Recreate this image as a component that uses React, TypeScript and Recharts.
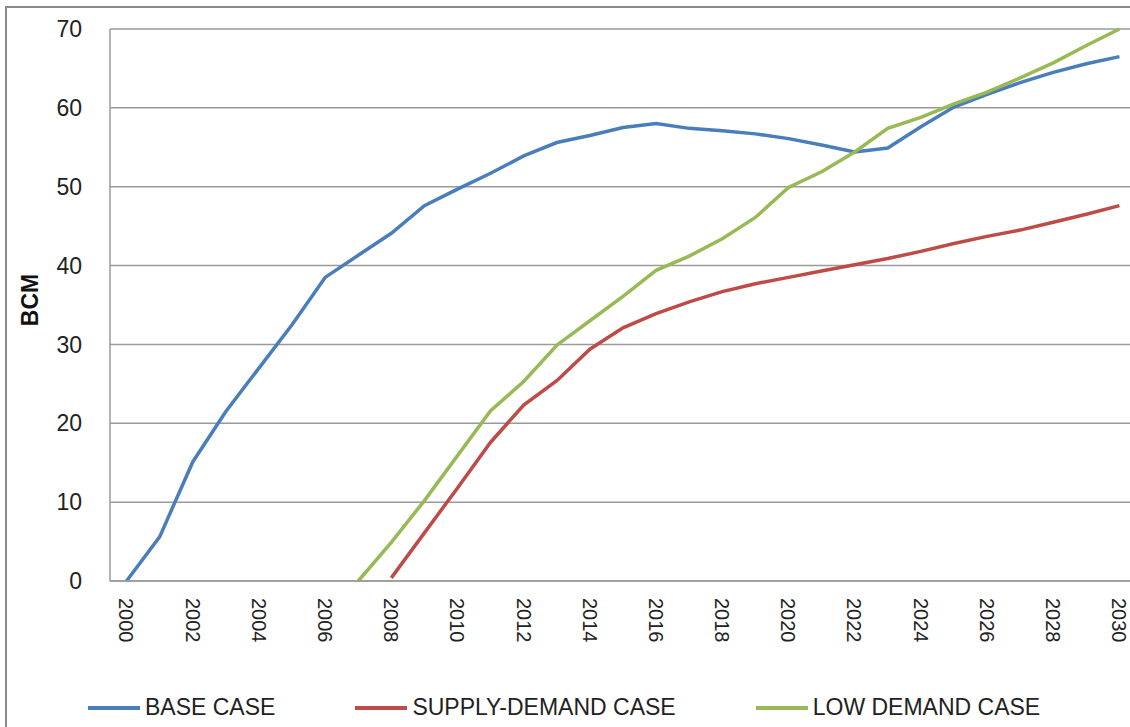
import React from 'react';
import { LineChart, Line, XAxis, YAxis, CartesianGrid } from 'recharts';

// years on the category axis
const years = [
  2000, 2001, 2002, 2003, 2004, 2005, 2006, 2007, 2008, 2009, 2010,
  2011, 2012, 2013, 2014, 2015, 2016, 2017, 2018, 2019, 2020,
  2021, 2022, 2023, 2024, 2025, 2026, 2027, 2028, 2029, 2030,
];

const baseCase = [
  0, 5.6, 15.1, 21.5, 27, 32.5, 38.5, 41.3, 44.1, 47.6, 49.7,
  51.7, 53.9, 55.6, 56.5, 57.5, 58, 57.4, 57.1, 56.7, 56.1,
  55.3, 54.4, 54.9, 57.6, 60.1, 61.7, 63.2, 64.5, 65.6, 66.5,
];

const supplyDemandCase = [
  null, null, null, null, null, null, null, null, 0.4, 6.1, 11.8,
  17.6, 22.3, 25.4, 29.4, 32.1, 33.9, 35.4, 36.7, 37.7, 38.5,
  39.3, 40.1, 40.9, 41.8, 42.8, 43.7, 44.5, 45.5, 46.5, 47.6,
];

const lowDemandCase = [
  null, null, null, null, null, null, null, 0, 4.9, 10.2, 15.9,
  21.6, 25.3, 29.9, 33, 36.1, 39.4, 41.2, 43.4, 46.1, 49.9,
  51.9, 54.4, 57.4, 58.8, 60.5, 62, 63.8, 65.7, 67.9, 70,
];

const yTicks = [0, 10, 20, 30, 40, 50, 60, 70];
const xTicks = [2000, 2002, 2004, 2006, 2008, 2010, 2012, 2014, 2016, 2018, 2020, 2022, 2024, 2026, 2028, 2030];

const series = [
  { key: 'base', name: 'BASE CASE', color: '#4A7EBB' },
  { key: 'supply', name: 'SUPPLY-DEMAND CASE', color: '#BE4B48' },
  { key: 'low', name: 'LOW DEMAND CASE', color: '#98B954' },
];

const data = years.map((year, i) => ({
  year,
  base: baseCase[i],
  supply: supplyDemandCase[i],
  low: lowDemandCase[i],
}));

const FONT = '"Liberation Sans", Arial, sans-serif';

const YearTick = (props: any) => {
  const { x, y, payload } = props;
  return (
    <g transform={`translate(${x},${y})`}>
      <text
        transform="rotate(90)"
        x={17}
        y={0}
        dy="0.36em"
        textAnchor="start"
        fill="#222"
        fontSize={20}
        fontFamily={FONT}
      >
        {payload.value}
      </text>
    </g>
  );
};

// legend sits outside the chart so it doesn't eat plot height
const ChartLegend = () => (
  <div
    style={{
      position: 'absolute',
      left: 0,
      top: 694,
      display: 'flex',
      alignItems: 'center',
      paddingLeft: 88,
      gap: 80,
      fontFamily: FONT,
    }}
  >
    {series.map((s) => (
      <div key={s.key} style={{ display: 'flex', alignItems: 'center' }}>
        <div style={{ width: 52, height: 4, background: s.color, marginRight: 5 }} />
        <span style={{ fontSize: 23, color: '#222' }}>{s.name}</span>
      </div>
    ))}
  </div>
);

export default function App() {
  return (
    <div style={{ position: 'fixed', left: 0, top: 0, width: 1130, height: 727, overflow: 'hidden', background: '#fff' }}>
      <div
        style={{
          position: 'absolute',
          left: 5,
          top: 6,
          width: 1200,
          height: 800,
          borderLeft: '2px solid #8a8a8a',
          borderTop: '2px solid #8a8a8a',
        }}
      />
      <div style={{ position: 'absolute', left: 0, top: 0 }}>
        <LineChart
          width={1150}
          height={740}
          data={data}
          margin={{ top: 29, right: 14, left: 50, bottom: 79 }}
        >
          <CartesianGrid vertical={false} stroke="#9a9a9a" strokeWidth={1.5} />
          <XAxis
            dataKey="year"
            type="number"
            domain={[1999.5, 2030.5]}
            ticks={xTicks}
            interval={0}
            height={80}
            tickSize={0}
            tickMargin={0}
            tickLine={false}
            axisLine={{ stroke: '#9a9a9a', strokeWidth: 1.5 }}
            tick={<YearTick />}
          />
          <YAxis
            domain={[0, 70]}
            ticks={yTicks}
            interval={0}
            width={60}
            tickSize={0}
            tickMargin={28}
            tickLine={false}
            axisLine={{ stroke: '#9a9a9a', strokeWidth: 1.5 }}
            tick={{ fill: '#222', fontSize: 23, fontFamily: FONT }}
            label={{
              content: (p: any) => {
                const vb = p.viewBox;
                const cx = vb.x - 20;
                const cy = vb.y + vb.height / 2 - 5;
                return (
                  <text
                    x={cx}
                    y={cy}
                    transform={`rotate(-90, ${cx}, ${cy})`}
                    textAnchor="middle"
                    dominantBaseline="central"
                    fontWeight="bold"
                    fontSize={23}
                    fontFamily={FONT}
                    fill="#111"
                  >
                    BCM
                  </text>
                );
              },
            }}
          />
          {series.map((s) => (
            <Line
              key={s.key}
              type="linear"
              dataKey={s.key}
              name={s.name}
              stroke={s.color}
              strokeWidth={3.5}
              dot={false}
              activeDot={false}
              isAnimationActive={false}
            />
          ))}
        </LineChart>
      </div>
      <ChartLegend />
    </div>
  );
}
